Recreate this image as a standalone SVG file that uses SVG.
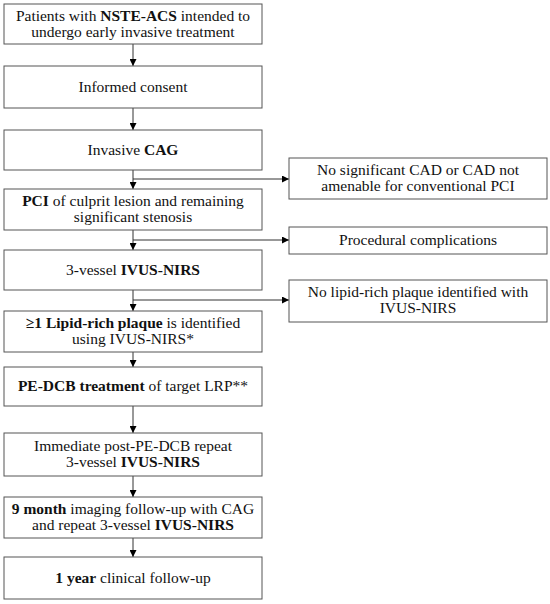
<svg xmlns="http://www.w3.org/2000/svg" width="550" height="604" viewBox="0 0 550 604">
<defs>
<marker id="ah" viewBox="0 0 10 10" refX="10" refY="5" markerWidth="7" markerHeight="7" markerUnits="userSpaceOnUse" orient="auto">
<path d="M0,0 L10,5 L0,10 z" fill="#000"/>
</marker>
<style>
.box{fill:#fff;stroke:#555;stroke-width:1}
.t{font-family:"Liberation Serif","DejaVu Serif",serif;font-size:15.5px;fill:#111;text-anchor:middle}
.b{font-weight:bold}
.c{fill:none;stroke:#333;stroke-width:1}
</style>
</defs>
<rect width="550" height="604" fill="#fff"/>
<g id="connectors">
<line class="c" x1="133" y1="44" x2="133" y2="66" marker-end="url(#ah)"/>
<line class="c" x1="133" y1="108" x2="133" y2="130" marker-end="url(#ah)"/>
<line class="c" x1="133" y1="170" x2="133" y2="189" marker-end="url(#ah)"/>
<line class="c" x1="133" y1="179" x2="289" y2="179" marker-end="url(#ah)"/>
<line class="c" x1="133" y1="230" x2="133" y2="250" marker-end="url(#ah)"/>
<line class="c" x1="133" y1="240" x2="289" y2="240" marker-end="url(#ah)"/>
<line class="c" x1="133" y1="290" x2="133" y2="311" marker-end="url(#ah)"/>
<line class="c" x1="133" y1="300" x2="289" y2="300" marker-end="url(#ah)"/>
<line class="c" x1="133" y1="352" x2="133" y2="367" marker-end="url(#ah)"/>
<line class="c" x1="133" y1="406" x2="133" y2="433" marker-end="url(#ah)"/>
<line class="c" x1="133" y1="476" x2="133" y2="497" marker-end="url(#ah)"/>
<line class="c" x1="133" y1="538" x2="133" y2="557" marker-end="url(#ah)"/>
</g>
<g id="n1"><rect class="box" x="4" y="4" width="258" height="40"/>
<text class="t" x="133" y="21">Patients with <tspan class="b">NSTE-ACS</tspan> intended to</text>
<text class="t" x="133" y="37">undergo early invasive treatment</text></g>
<g id="n2"><rect class="box" x="4" y="66" width="258" height="42"/>
<text class="t" x="133" y="92">Informed consent</text></g>
<g id="n3"><rect class="box" x="4" y="130" width="258" height="40"/>
<text class="t" x="133" y="155">Invasive <tspan class="b">CAG</tspan></text></g>
<g id="n4"><rect class="box" x="4" y="189" width="258" height="41"/>
<text class="t" x="133" y="206"><tspan class="b">PCI</tspan> of culprit lesion and remaining</text>
<text class="t" x="133" y="222">significant stenosis</text></g>
<g id="n5"><rect class="box" x="4" y="250" width="258" height="40"/>
<text class="t" x="133" y="275">3-vessel <tspan class="b">IVUS-NIRS</tspan></text></g>
<g id="n6"><rect class="box" x="4" y="311" width="258" height="41"/>
<text class="t" x="133" y="328"><tspan class="b">≥1 Lipid-rich plaque</tspan> is identified</text>
<text class="t" x="133" y="344">using IVUS-NIRS*</text></g>
<g id="n7"><rect class="box" x="4" y="367" width="258" height="39"/>
<text class="t" x="133" y="391"><tspan class="b">PE-DCB treatment</tspan> of target LRP**</text></g>
<g id="n8"><rect class="box" x="4" y="433" width="258" height="43"/>
<text class="t" x="133" y="451">Immediate post-PE-DCB repeat</text>
<text class="t" x="133" y="467">3-vessel <tspan class="b">IVUS-NIRS</tspan></text></g>
<g id="n9"><rect class="box" x="4" y="497" width="258" height="41"/>
<text class="t" x="133" y="514"><tspan class="b">9 month</tspan> imaging follow-up with CAG</text>
<text class="t" x="133" y="530">and repeat 3-vessel <tspan class="b">IVUS-NIRS</tspan></text></g>
<g id="n10"><rect class="box" x="4" y="557" width="258" height="42"/>
<text class="t" x="133" y="583"><tspan class="b">1 year</tspan> clinical follow-up</text></g>
<g id="r1"><rect class="box" x="289" y="158" width="258" height="41"/>
<text class="t" x="418" y="175">No significant CAD or CAD not</text>
<text class="t" x="418" y="191">amenable for conventional PCI</text></g>
<g id="r2"><rect class="box" x="289" y="227" width="258" height="27"/>
<text class="t" x="418" y="245">Procedural complications</text></g>
<g id="r3"><rect class="box" x="289" y="280" width="258" height="42"/>
<text class="t" x="418" y="297">No lipid-rich plaque identified with</text>
<text class="t" x="418" y="313">IVUS-NIRS</text></g>
</svg>
